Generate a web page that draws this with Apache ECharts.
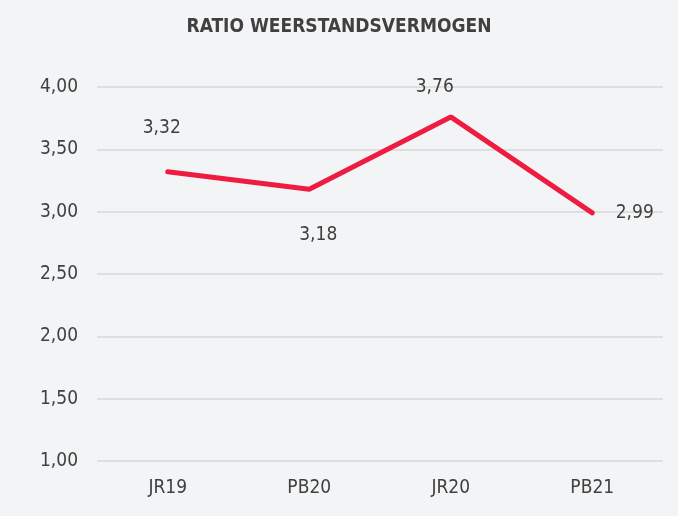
<!DOCTYPE html>
<html><head><meta charset="utf-8">
<script src="https://cdn.jsdelivr.net/npm/echarts@6/dist/echarts.min.js"></script>
<style>html,body{margin:0;padding:0;background:#f3f4f6;}#c{width:678px;height:516px;}</style>
</head><body><div id="c"></div>
<script>
const categories = ['JR19', 'PB20', 'JR20', 'PB21'];
const ratioValues = [3.32, 3.18, 3.76, 2.99];
const yTicks = [1, 1.5, 2, 2.5, 3, 3.5, 4];
const titleText = 'RATIO WEERSTANDSVERMOGEN';

const labelPlacements = [
  { position: 'top', offset: [-6, -28] },
  { position: 'bottom', offset: [9, 30] },
  { position: 'top', offset: [-16, -14] },
  { position: 'right', offset: [17, 0] }
];

const fmt = v => v.toFixed(2).replace('.', ',');
const font = '"DejaVu Sans Condensed", "DejaVu Sans", sans-serif';
const chart = echarts.init(document.getElementById('c'), null, { renderer: 'canvas' });
chart.setOption({
  backgroundColor: '#f3f4f6',
  animation: false,
  title: {
    text: titleText, left: 'center', top: 13,
    textStyle: { fontFamily: font, fontSize: 19, fontWeight: 'bold', color: '#404040' }
  },
  grid: { left: 97, right: 15, top: 87, bottom: 55 },
  xAxis: {
    type: 'category', data: categories, boundaryGap: true,
    axisLine: { show: false }, axisTick: { show: false },
    axisLabel: { fontFamily: font, fontSize: 19, color: '#404040', margin: 18 }
  },
  yAxis: {
    type: 'value', min: yTicks[0], max: yTicks[yTicks.length - 1], interval: 0.5,
    axisLine: { show: false }, axisTick: { show: false },
    axisLabel: { fontFamily: font, fontSize: 19, color: '#404040', margin: 19, formatter: v => fmt(v) },
    splitLine: { lineStyle: { color: '#d9d9d9', width: 1.5 } }
  },
  series: [{
    type: 'line', data: ratioValues.map((v, i) => ({
      value: v,
      label: { show: true, position: labelPlacements[i].position, offset: labelPlacements[i].offset }
    })),
    symbol: 'circle', symbolSize: 3, showSymbol: true,
    itemStyle: { color: '#ee1c40' },
    lineStyle: { color: '#ee1c40', width: 5, cap: 'round' },
    label: { show: true, fontFamily: font, fontSize: 19, color: '#404040', formatter: p => fmt(p.value) }
  }]
});
</script></body></html>
